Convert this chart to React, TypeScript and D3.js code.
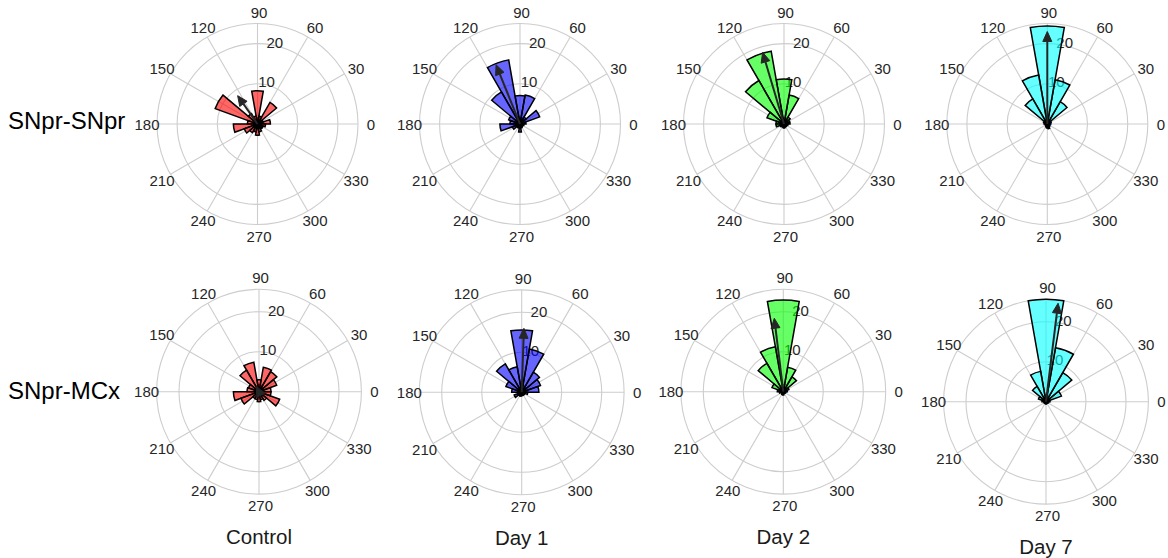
import React from "react";
import * as d3 from "d3";

// ---- data ----
const BIN_STARTS = [0, 20, 40, 60, 80, 100, 120, 140, 160, 180, 200, 220, 240, 260, 280, 300, 320, 340];
const BIN_WIDTH = 20;
const ANGLE_TICKS = [0, 30, 60, 90, 120, 150, 180, 210, 240, 270, 300, 330];
const R_TICKS = [0, 10, 20];
const CONDITIONS = ["Control", "Day 1", "Day 2", "Day 7"];
const PATHWAYS = ["SNpr-SNpr", "SNpr-MCx"];
const CONDITION_COLORS = ["#ff0000", "#0000ff", "#00ff00", "#00ffff"];

// counts per 20° bin, starting at 0°
const snprSnprControl = [3.2, 1.5, 6.2, 2, 8.3, 2, 3, 11.2, 2.5, 6, 3.5, 2.5, 2, 2.8, 2, 1.5, 1.5, 2];
const snprSnprDay1 = [1.5, 5.2, 2, 7.3, 7.1, 16.2, 9.2, 3, 2.5, 5, 2, 1, 1, 2, 1, 0.8, 0.8, 1];
const snprSnprDay2 = [1.5, 1.5, 2, 7.3, 11.2, 18.4, 12.5, 4.5, 2, 2, 1, 0.8, 0.8, 1, 0.8, 0.8, 0.8, 1];
const snprSnprDay7 = [0.8, 1, 6.4, 11.2, 24.4, 12.4, 7.2, 1, 0.8, 0.5, 0.5, 0.5, 0.8, 1, 1.2, 0.8, 0.5, 0.5];

const snprMcxControl = [3, 4.7, 5.8, 6.2, 3, 7.5, 6.2, 2.8, 3, 6.4, 4.8, 2, 2, 2.5, 2, 2.5, 5.5, 3];
const snprMcxDay1 = [4.3, 5, 5.8, 11, 15.6, 6.5, 8.2, 4.2, 2.5, 1, 2, 1, 1, 0.8, 0.8, 0.8, 0.8, 1.5];
const snprMcxDay2 = [1, 1.5, 4.3, 6.2, 22.9, 11.4, 8.2, 3, 1.5, 1, 0.5, 0.5, 0.8, 0.8, 0.5, 0.5, 0.5, 0.5];
const snprMcxDay7 = [1, 4.1, 8.4, 13.7, 25.6, 7.7, 4.4, 2, 1, 0.5, 0.5, 0.5, 0.5, 0.5, 0.5, 0.5, 0.5, 0.5];

// mean vectors (angle in degrees, length in count units)
const snprSnprMeanAngle = [125, 112, 106.6, 90];
const snprSnprMeanLength = [8.6, 15.9, 18.6, 23];
const snprMcxMeanAngle = [118, 88, 97, 83];
const snprMcxMeanLength = [1.5, 16, 18.5, 24.8];

const ROW_R_MAX = [25, 25.6];

const SERIES = [
  [snprSnprControl, snprSnprDay1, snprSnprDay2, snprSnprDay7],
  [snprMcxControl, snprMcxDay1, snprMcxDay2, snprMcxDay7],
];
const MEAN_ANGLES = [snprSnprMeanAngle, snprMcxMeanAngle];
const MEAN_LENGTHS = [snprSnprMeanLength, snprMcxMeanLength];

// ---- layout ----
const W = 1168;
const H = 558;
const PANEL_CX = [
  [257.5, 520, 784, 1047.3],
  [259, 521.7, 783.3, 1046],
];
const PANEL_CY = [
  [124, 124, 124, 124],
  [391.7, 392.3, 391.7, 401.7],
];
const ROW_OUTER_PX = [100.5, 102.4];
const FONT = "'Liberation Sans', Arial, Helvetica, sans-serif";
const TXT = "#262626";
const GRID = "#cdcdcd";

const rad = (deg: number) => (deg * Math.PI) / 180;

function PolarPanel(props: {
  cx: number;
  cy: number;
  R: number;
  rMax: number;
  counts: number[];
  meanAngle: number;
  meanLen: number;
  color: string;
}) {
  const { cx, cy, R, rMax, counts, meanAngle, meanLen, color } = props;
  const r = d3.scaleLinear().domain([0, rMax]).range([0, R]);
  const arc = d3.arc<any>();
  const pt = (deg: number, rr: number): [number, number] => [rr * Math.cos(rad(deg)), -rr * Math.sin(rad(deg))];

  // arrow
  const tipR = r(meanLen);
  const [tx, ty] = pt(meanAngle, tipR);
  const ux = Math.cos(rad(meanAngle));
  const uy = -Math.sin(rad(meanAngle));
  const headL = 10;
  const headW = 4.5;
  const bx = tx - ux * headL;
  const by = ty - uy * headL;
  const px = -uy;
  const py = ux;
  const headPath = `M${tx},${ty}L${bx + px * headW},${by + py * headW}L${bx - px * headW},${by - py * headW}Z`;

  const labelR = R + 11.5;
  const rTickAngle = 78;

  return (
    <g transform={`translate(${cx},${cy})`}>
      {/* grid circles */}
      {R_TICKS.filter((t) => t > 0).map((t) => (
        <circle key={"c" + t} r={r(t)} fill="none" stroke={GRID} strokeWidth={1.1} />
      ))}
      <circle r={r(rMax)} fill="none" stroke={GRID} strokeWidth={1.1} />
      {/* spokes */}
      {ANGLE_TICKS.map((a) => {
        const [x, y] = pt(a, R);
        return <line key={"s" + a} x1={0} y1={0} x2={x} y2={y} stroke={GRID} strokeWidth={1.1} />;
      })}
      {/* angle labels */}
      {ANGLE_TICKS.map((a) => {
        const [x, y] = pt(a, labelR);
        return (
          <text
            key={"t" + a}
            x={x + 1.5}
            y={y}
            textAnchor="middle"
            dominantBaseline="central"
            fontSize={15}
            fontFamily={FONT}
            fill={TXT}
          >
            {a}
          </text>
        );
      })}
      {/* radial tick labels */}
      {R_TICKS.map((t) => {
        const [x, y] = pt(rTickAngle, r(t) + 3);
        return (
          <text
            key={"r" + t}
            x={x}
            y={y}
            textAnchor="middle"
            dominantBaseline="central"
            fontSize={15}
            fontFamily={FONT}
            fill={TXT}
          >
            {t}
          </text>
        );
      })}
      {/* bars */}
      {counts.map((v, i) => {
        if (v <= 0) return null;
        const a0 = BIN_STARTS[i];
        const d = arc({
          innerRadius: 0,
          outerRadius: r(v),
          startAngle: rad(90 - (a0 + BIN_WIDTH)),
          endAngle: rad(90 - a0),
        });
        return (
          <path
            key={"b" + i}
            d={d || ""}
            fill={color}
            fillOpacity={0.6}
            stroke="#000"
            strokeWidth={1.5}
            strokeLinejoin="miter"
          />
        );
      })}
      {/* mean vector */}
      <line x1={0} y1={0} x2={bx} y2={by} stroke={TXT} strokeWidth={2} />
      <path d={headPath} fill={TXT} stroke={TXT} strokeWidth={1} strokeLinejoin="miter" />
    </g>
  );
}

export default function App() {
  return (
    <div style={{ position: "absolute", left: 0, top: 0, width: W, height: H, background: "#fff" }}>
      <svg width={W} height={H} style={{ display: "block" }}>
        <rect width={W} height={H} fill="#fff" />
        {PATHWAYS.map((p, row) => (
          <text
            key={p}
            x={8}
            y={row === 0 ? 120 : 390}
            dominantBaseline="central"
            fontSize={24}
            fontFamily={FONT}
            fill="#000"
          >
            {p}
          </text>
        ))}
        {PATHWAYS.map((p, row) =>
          CONDITIONS.map((c, col) => (
            <PolarPanel
              key={p + c}
              cx={PANEL_CX[row][col]}
              cy={PANEL_CY[row][col]}
              R={ROW_OUTER_PX[row]}
              rMax={ROW_R_MAX[row]}
              counts={SERIES[row][col]}
              meanAngle={MEAN_ANGLES[row][col]}
              meanLen={MEAN_LENGTHS[row][col]}
              color={CONDITION_COLORS[col]}
            />
          ))
        )}
        {CONDITIONS.map((c, col) => (
          <text
            key={"cl" + c}
            x={PANEL_CX[1][col]}
            y={PANEL_CY[1][col] + 145}
            textAnchor="middle"
            dominantBaseline="central"
            fontSize={20.5}
            fontFamily={FONT}
            fill="#1a1a1a"
          >
            {c}
          </text>
        ))}
      </svg>
    </div>
  );
}
